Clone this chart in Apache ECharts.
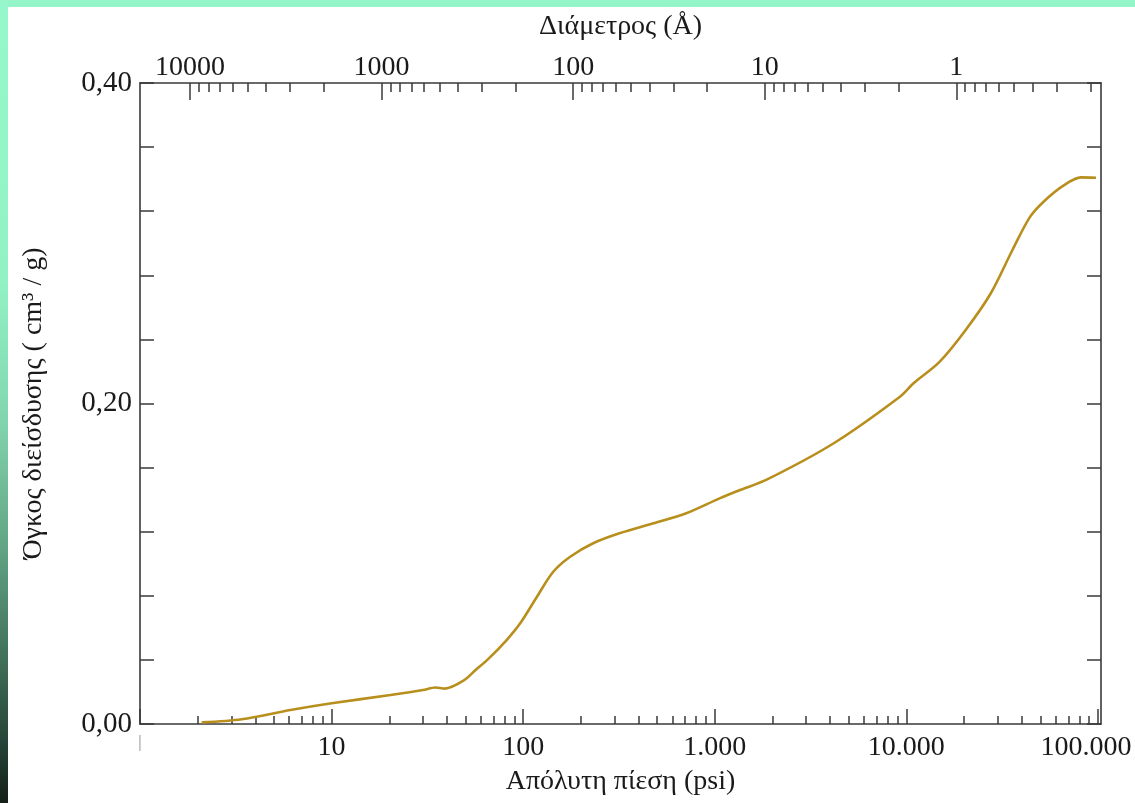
<!DOCTYPE html>
<html>
<head>
<meta charset="utf-8">
<script src="https://cdn.jsdelivr.net/npm/echarts@6/dist/echarts.min.js"></script>
<style>
html,body{margin:0;padding:0;background:#fff;}
#wrap{position:relative;width:1135px;height:803px;overflow:hidden;background:#fff;}
#chart{position:absolute;left:0;top:0;width:1135px;height:803px;}
#topStrip{position:absolute;left:0;top:0;width:1135px;height:7px;background:#94f6c8;z-index:5;}
#leftStrip{position:absolute;left:0;top:0;width:8px;height:803px;z-index:6;
  background:linear-gradient(to bottom,#96f8ca 0%,#92f2c4 35%,#82d6ae 52%,#62a585 68%,#3f7059 82%,#27463a 92%,#131f19 100%);}
</style>
</head>
<body>
<div id="wrap">
  <div id="chart"></div>
  <div id="topStrip"></div>
  <div id="leftStrip"></div>
</div>
<script>
// ---- data ----
const pressurePsi = [2.1, 3.4, 6.1, 10, 20.3, 30, 34.8, 39, 49, 57, 65, 82, 96.5, 118, 143.5, 176, 232, 318, 478, 710, 1060, 1355, 1855, 4180, 9260, 10900, 14900, 20400, 27600, 35800, 44300, 53200, 66600, 81500, 97700];
const volume = [0.001, 0.003, 0.0087, 0.0129, 0.0181, 0.0212, 0.0228, 0.0221, 0.0272, 0.0342, 0.040, 0.0524, 0.0628, 0.0794, 0.095, 0.1044, 0.1128, 0.119, 0.1252, 0.1315, 0.1408, 0.146, 0.1523, 0.1752, 0.2042, 0.2126, 0.226, 0.2459, 0.2688, 0.2958, 0.3166, 0.327, 0.3363, 0.3411, 0.3409];

const pressureMajor = [1, 10, 100, 1000, 10000, 100000];
const diameterMajor = [10000, 1000, 100, 10, 1];
const minorMultipliers = [2, 3, 4, 5, 6, 7, 8, 9];
const diameterConst = 18240; // D(Å) = K / P(psi)

const xMin = 0, xMax = 5.016; // log10(psi)

// ---- helpers ----
const lg = Math.log10;
const inRange = v => v >= xMin - 1e-9 && v <= xMax + 1e-9;
const pMinor = [];
for (let d = 0; d <= 4; d++) minorMultipliers.forEach(m => pMinor.push(lg(m * Math.pow(10, d))));
const dMajorPos = diameterMajor.map(D => lg(diameterConst / D));
const dMinorPos = [];
for (let d = -1; d <= 3; d++) minorMultipliers.forEach(m => dMinorPos.push(lg(diameterConst / (m * Math.pow(10, d)))));

const seriesData = pressurePsi.map((p, i) => [lg(p), volume[i]]);

const FONT = '"Liberation Serif", "DejaVu Serif", serif';
const TXT = '#1a1a1a';
const LINE = '#3a3a3a';

function fmtPsi(v) {
  const p = Math.round(Math.pow(10, v));
  if (p === 1) return '{p||}';
  const s = String(p).replace(/\B(?=(\d{3})+(?!\d))/g, '.');
  if (p === 100000) return '{r|' + s + '}';
  return s;
}

const axisLineStyle = {show: true, onZero: false, lineStyle: {color: LINE, width: 1.6}};
const noLine = {show: false, onZero: false};

const chart = echarts.init(document.getElementById('chart'), null, {renderer: 'canvas'});
chart.setOption({
  animation: false,
  backgroundColor: 'transparent',
  grid: {left: 140, right: 34, top: 83, bottom: 79, containLabel: false, outerBoundsMode: 'none'},
  xAxis: [
    { // bottom major
      type: 'value', position: 'bottom', min: xMin, max: xMax,
      name: 'Απόλυτη πίεση (psi)', nameLocation: 'middle', nameGap: 44,
      nameTextStyle: {fontFamily: FONT, fontSize: 28, color: TXT},
      axisLine: axisLineStyle,
      axisTick: {show: true, inside: true, length: 15, customValues: pressureMajor.map(lg).filter(inRange), lineStyle: {color: LINE, width: 1.5}},
      axisLabel: {show: true, margin: 10, customValues: pressureMajor.map(lg).filter(inRange), formatter: fmtPsi,
        fontFamily: FONT, fontSize: 28, color: TXT,
        rich: {r: {fontFamily: FONT, fontSize: 28, color: TXT, padding: [0, 24, 0, 0]},
               p: {fontFamily: FONT, fontSize: 17, color: '#8a8a8a'}}},
      splitLine: {show: false}
    },
    { // bottom minor
      type: 'value', position: 'bottom', min: xMin, max: xMax,
      axisLine: noLine,
      axisTick: {show: true, inside: true, length: 8, customValues: pMinor.filter(inRange), lineStyle: {color: LINE, width: 1.5}},
      axisLabel: {show: false}, splitLine: {show: false}
    },
    { // top major (diameter)
      type: 'value', position: 'top', min: xMin, max: xMax,
      name: 'Διάμετρος (Å)', nameLocation: 'middle', nameGap: 42,
      nameTextStyle: {fontFamily: FONT, fontSize: 28, color: TXT},
      axisLine: axisLineStyle,
      axisTick: {show: true, inside: true, length: 17, customValues: dMajorPos.filter(inRange), lineStyle: {color: LINE, width: 1.5}},
      axisLabel: {show: true, margin: 1, customValues: dMajorPos.filter(inRange),
        formatter: v => String(Math.round(diameterConst / Math.pow(10, v))),
        fontFamily: FONT, fontSize: 28, color: TXT},
      splitLine: {show: false}
    },
    { // top minor
      type: 'value', position: 'top', min: xMin, max: xMax,
      axisLine: noLine,
      axisTick: {show: true, inside: true, length: 9, customValues: dMinorPos.filter(inRange), lineStyle: {color: LINE, width: 1.5}},
      axisLabel: {show: false}, splitLine: {show: false}
    }
  ],
  yAxis: [
    {
      type: 'value', position: 'left', min: 0, max: 0.4, interval: 0.04,
      name: 'Όγκος διείσδυσης ( cm³ / g)', nameLocation: 'middle', nameGap: 92, nameRotate: 90,
      nameTextStyle: {fontFamily: FONT, fontSize: 28, color: TXT},
      axisLine: axisLineStyle,
      axisTick: {show: true, inside: true, length: 14, lineStyle: {color: LINE, width: 1.5}},
      axisLabel: {show: true, margin: 8, fontFamily: FONT, fontSize: 29, color: TXT,
        formatter: v => (Math.abs(v * 5 - Math.round(v * 5)) < 1e-6 ? v.toFixed(2).replace('.', ',') : '')},
      splitLine: {show: false}
    },
    {
      type: 'value', position: 'right', min: 0, max: 0.4, interval: 0.04,
      axisLine: axisLineStyle,
      axisTick: {show: true, inside: true, length: 14, lineStyle: {color: LINE, width: 1.5}},
      axisLabel: {show: false}, splitLine: {show: false}
    }
  ],
  series: [{
    type: 'line', xAxisIndex: 0, yAxisIndex: 0,
    data: seriesData, smooth: 0.3, showSymbol: false, symbol: 'none',
    lineStyle: {color: '#b88f1c', width: 2.6},
    itemStyle: {color: '#b88f1c'}
  }]
});
</script>
</body>
</html>
